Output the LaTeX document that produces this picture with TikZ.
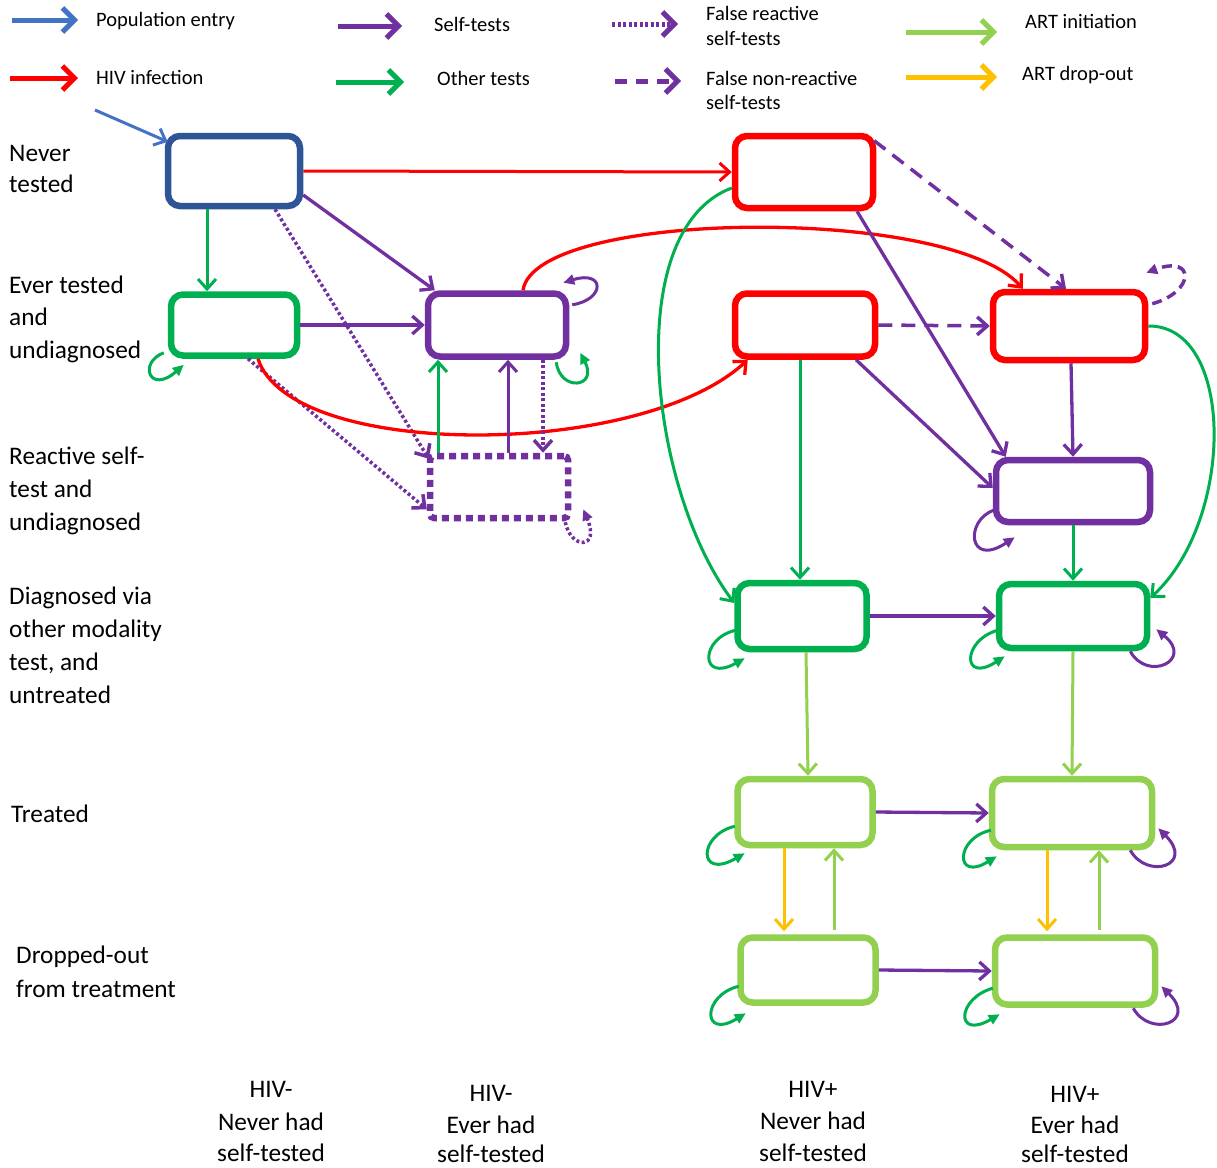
\documentclass[tikz,border=0pt]{standalone}
\usepackage{fontspec}
\setmainfont{Carlito}
\usetikzlibrary{arrows.meta}
\definecolor{nblue}{HTML}{2F5597}
\definecolor{pblue}{HTML}{4472C4}
\definecolor{hred}{HTML}{FF0000}
\definecolor{hpurple}{HTML}{7030A0}
\definecolor{hgreen}{HTML}{00B050}
\definecolor{lgreen}{HTML}{92D050}
\definecolor{hyellow}{HTML}{FFC000}
\newcommand{\txtline}[5]{\node[#1] (#2) at (#3) {#4#5};}
\begin{document}
\begin{tikzpicture}[x=1pt,y=-1pt,
  state/.style={draw,line width=6.5pt,rounded corners=12pt,inner sep=0pt,fill=white},
  conn/.style={line width=3.3pt,-{Straight Barb[length=10pt,width=18pt]}},
  thinconn/.style={line width=3pt,-{Straight Barb[length=10pt,width=18pt]}},
  loopa/.style={line width=3pt,-{Triangle[length=11pt,width=10pt]}},
  dotst/.style={dash pattern=on 3pt off 2.5pt,line width=3.5pt},
  dashst/.style={dash pattern=on 14pt off 9pt,line width=3.5pt},
  leg/.style={line width=5pt,-{Straight Barb[length=12pt,width=24pt]}},
  legtxt/.style={anchor=base west,inner sep=0pt,font=\fontsize{20.5}{24}\selectfont},
  rowtxt/.style={anchor=base west,inner sep=0pt,font=\fontsize{25.3}{30}\selectfont},
  coltxt/.style={anchor=base,inner sep=0pt,font=\fontsize{25.3}{30}\selectfont}]
\useasboundingbox (0,0) rectangle (1217,1167);

% ---------- legend ----------
\coordinate (l1a) at (12,20);   \coordinate (l1b) at (78,20);
\coordinate (l2a) at (10,78);   \coordinate (l2b) at (78,78);
\coordinate (l3a) at (338,26);  \coordinate (l3b) at (402,26);
\coordinate (l4a) at (336,82);  \coordinate (l4b) at (404,82);
\coordinate (l5a) at (612,24);  \coordinate (l5b) at (678,24);
\coordinate (l6a) at (615,81);  \coordinate (l6b) at (681,81);
\coordinate (l7a) at (906,32);  \coordinate (l7b) at (997,32);
\coordinate (l8a) at (906,77);  \coordinate (l8b) at (997,77);
\draw[leg,pblue] (l1a) -- (l1b);
\draw[leg,hred] (l2a) -- (l2b);
\draw[leg,hpurple] (l3a) -- (l3b);
\draw[leg,hgreen] (l4a) -- (l4b);
\draw[leg,hpurple,dash pattern=on 3pt off 2.5pt] (l5a) -- (l5b);
\draw[leg,hpurple,dash pattern=on 12pt off 9pt] (l6a) -- (l6b);
\draw[leg,lgreen] (l7a) -- (l7b);
\draw[leg,hyellow] (l8a) -- (l8b);
\txtline{legtxt}{t1}{96,27}{Population entry}{}
\txtline{legtxt}{t2}{96,84}{HIV infection}{}
\txtline{legtxt}{t3}{434,31}{Self-tests}{}
\txtline{legtxt}{t4}{437,85}{Other tests}{}
\txtline{legtxt}{t5a}{706,20}{False reactive}{}
\txtline{legtxt}{t5b}{706,45}{self-tests}{}
\txtline{legtxt}{t6a}{706,85}{False non-reactive}{}
\txtline{legtxt}{t6b}{706,109}{self-tests}{}
\txtline{legtxt}{t7}{1025,28}{ART initiation}{}
\txtline{legtxt}{t8}{1022,80}{ART drop-out}{}

% ---------- row labels ----------
\txtline{rowtxt}{r1a}{9,161}{Never}{}
\txtline{rowtxt}{r1b}{9,192}{tested}{}
\txtline{rowtxt}{r2a}{9,293}{Ever tested}{}
\txtline{rowtxt}{r2b}{9,325}{and}{}
\txtline{rowtxt}{r2c}{9,358}{undiagnosed}{}
\txtline{rowtxt}{r3a}{9,464}{Reactive self-}{}
\txtline{rowtxt}{r3b}{9,497}{test and}{}
\txtline{rowtxt}{r3c}{9,530}{undiagnosed}{}
\txtline{rowtxt}{r4a}{9,604}{Diagnosed via}{}
\txtline{rowtxt}{r4b}{9,637}{other modality}{}
\txtline{rowtxt}{r4c}{9,670}{test, and}{}
\txtline{rowtxt}{r4d}{9,703}{untreated}{}
\txtline{rowtxt}{r5a}{11,822}{Treated}{}
\txtline{rowtxt}{r6a}{16,963}{Dropped-out}{}
\txtline{rowtxt}{r6b}{16,997}{from treatment}{}

% ---------- column labels ----------
\txtline{coltxt}{c1a}{271,1097}{HIV-}{}
\txtline{coltxt}{c1b}{271,1130}{Never had}{}
\txtline{coltxt}{c1c}{271,1161}{self-tested}{}
\txtline{coltxt}{c2a}{491,1101}{HIV-}{}
\txtline{coltxt}{c2b}{491,1133}{Ever had}{}
\txtline{coltxt}{c2c}{491,1162}{self-tested}{}
\txtline{coltxt}{c3a}{813,1097}{HIV+}{}
\txtline{coltxt}{c3b}{813,1129}{Never had}{}
\txtline{coltxt}{c3c}{813,1161}{self-tested}{}
\txtline{coltxt}{c4a}{1075,1102}{HIV+}{}
\txtline{coltxt}{c4b}{1075,1133}{Ever had}{}
\txtline{coltxt}{c4c}{1075,1162}{self-tested}{}

% ---------- states ----------
\node[state,draw=nblue,minimum width=132pt,minimum height=70pt] (NT) at (234,171) {};
\node[state,draw=hgreen,minimum width=126pt,minimum height=61pt] (ET) at (234,325) {};
\node[state,draw=hpurple,minimum width=138pt,minimum height=63pt] (ST) at (497,325) {};
\node[state,draw=hpurple,dash pattern=on 7pt off 5pt,rounded corners=4pt,minimum width=138pt,minimum height=62pt] (RS) at (499,487) {};
\node[state,draw=hred,minimum width=138pt,minimum height=72pt] (R1) at (804,172) {};
\node[state,draw=hred,minimum width=140pt,minimum height=63pt] (R2) at (805,325) {};
\node[state,draw=hred,minimum width=152pt,minimum height=68pt] (R3) at (1069,326) {};
\node[state,draw=hpurple,minimum width=154pt,minimum height=62pt] (S4) at (1073,491) {};
\node[state,draw=hgreen,minimum width=129pt,minimum height=66pt] (D1) at (802,616) {};
\node[state,draw=hgreen,minimum width=148pt,minimum height=64pt] (D2) at (1073,616) {};
\node[state,draw=lgreen,minimum width=135pt,minimum height=66pt] (T1) at (805,812) {};
\node[state,draw=lgreen,minimum width=160pt,minimum height=68pt] (T2) at (1072,813) {};
\node[state,draw=lgreen,minimum width=135pt,minimum height=65pt] (O1) at (808,970) {};
\node[state,draw=lgreen,minimum width=160pt,minimum height=67pt] (O2) at (1075,971) {};

% ---------- connectors: left part ----------
\coordinate (pe0) at (95,110);
\draw[thinconn,pblue] (pe0) -- ([shift={(3,9)}]NT.north west);
\draw[thinconn,hred] (NT.east) -- (R1.west);
\draw[thinconn,hgreen] ([shift={(-27,0)}]NT.south) -- ([shift={(-27,0)}]ET.north);
\draw[conn,hpurple] ([shift={(0,24)}]NT.east) -- ([shift={(10,0)}]ST.north west);
\draw[conn,dotst,hpurple] ([shift={(41,0)}]NT.south) -- ([shift={(2,6)}]RS.north west);
\draw[conn,hpurple] (ET.east) -- (ST.west);
\draw[conn,dotst,hpurple] ([shift={(14,0)}]ET.south) -- ([shift={(0,-12)}]RS.south west);
\draw[conn,hred] ([shift={(24,0)}]ET.south) .. controls +(32,101) and +(-108,100) .. ([shift={(16,0)}]R2.south west);
\draw[conn,hred] ([shift={(26,0)}]ST.north) .. controls +(12,-81) and +(-73,-84) .. ([shift={(33,0)}]R3.north west);
\draw[thinconn,hgreen] ([shift={(-61,0)}]RS.north) -- ([shift={(-59,0)}]ST.south);
\draw[thinconn,hpurple] ([shift={(9,0)}]RS.north) -- ([shift={(11,0)}]ST.south);
\draw[conn,dotst,hpurple] ([shift={(46,0)}]ST.south) -- ([shift={(44,0)}]RS.north);

% ---------- connectors: right part ----------
\draw[conn,dashst,hpurple] ([shift={(-2,8)}]R1.north east) -- ([shift={(-3,0)}]R3.north);
\draw[conn,dashst,hpurple] (R2.east) -- (R3.west);
\draw[conn,hpurple] ([shift={(53,0)}]R1.south) -- ([shift={(13,0)}]S4.north west);
\draw[conn,hpurple] ([shift={(51,0)}]R2.south) -- ([shift={(0,-3)}]S4.west);
\draw[conn,hpurple] ([shift={(2,0)}]R3.south) -- (S4.north);
\draw[thinconn,hgreen] (S4.south) -- (D2.north);
\draw[thinconn,hgreen] ([shift={(0,16)}]R1.west) .. controls +(-112,42) and +(-85,-113) .. ([shift={(0,-13)}]D1.west);
\draw[thinconn,hgreen] ([shift={(-5,0)}]R2.south) -- ([shift={(-2,0)}]D1.north);
\draw[thinconn,hgreen] (R3.east) .. controls +(87,-1) and +(85,-78) .. ([shift={(0,-18)}]D2.east);
\draw[conn,hpurple] (D1.east) -- (D2.west);
\draw[thinconn,lgreen] ([shift={(4,0)}]D1.south) -- ([shift={(3,0)}]T1.north);
\draw[thinconn,lgreen] (D2.south) -- (T2.north);
\draw[conn,hpurple] (T1.east) -- (T2.west);
\draw[thinconn,hyellow] ([shift={(-21,0)}]T1.south) -- ([shift={(-24,-3)}]O1.north);
\draw[thinconn,lgreen] ([shift={(26,-4)}]O1.north) -- ([shift={(29,0)}]T1.south);
\draw[thinconn,hyellow] ([shift={(-25,0)}]T2.south) -- ([shift={(-28,-3)}]O2.north);
\draw[thinconn,lgreen] ([shift={(24,-4)}]O2.north) -- ([shift={(27,0)}]T2.south);
\draw[conn,hpurple] (O1.east) -- (O2.west);

% ---------- self loops ----------
\draw[loopa,hgreen] ([shift={(-4,-6)}]ET.south west) .. controls +(-26,10) and +(-34,30) .. ([shift={(16,6)}]ET.south west);
\draw[loopa,hpurple] ([shift={(3,14.5)}]ST.north east) .. controls +(33,-5) and +(42,-13) .. ([shift={(-6,-7.5)}]ST.north east);
\draw[loopa,hgreen] ([shift={(-13,2.5)}]ST.south east) .. controls +(4,30) and +(18,35) .. ([shift={(11,-7)}]ST.south east);
\draw[loopa,dotst,hpurple] ([shift={(-6,1)}]RS.south east) .. controls +(6,28) and +(17,40) .. ([shift={(12,-12)}]RS.south east);
\draw[loopa,hpurple] ([shift={(1,-15)}]S4.south west) .. controls +(-29,10) and +(-47,31) .. ([shift={(22,12)}]S4.south west);
\draw[loopa,dashst,dash pattern=on 10pt off 6pt,hpurple] ([shift={(4,15)}]R3.north east) .. controls +(43,-12) and +(49,-18) .. ([shift={(-2,-16)}]R3.north east);
\draw[loopa,hgreen] ([shift={(1.5,-22)}]D1.south west) .. controls +(-36,8) and +(-45,25) .. ([shift={(10.5,6)}]D1.south west);
\draw[loopa,hgreen] ([shift={(2,-21)}]D2.south west) .. controls +(-36,10) and +(-43,28) .. ([shift={(9,5)}]D2.south west);
\draw[loopa,hpurple] ([shift={(-20,0)}]D2.south east) .. controls +(17,31) and +(38,31) .. ([shift={(6,-22)}]D2.south east);
\draw[loopa,hgreen] ([shift={(0.5,-22)}]T1.south west) .. controls +(-37,9) and +(-47,27) .. ([shift={(10.5,5)}]T1.south west);
\draw[loopa,hgreen] ([shift={(2,-20)}]T2.south west) .. controls +(-36,8) and +(-42,26) .. ([shift={(8,6)}]T2.south west);
\draw[loopa,hpurple] ([shift={(-25,0)}]T2.south east) .. controls +(17,30) and +(37,37) .. ([shift={(3,-22)}]T2.south east);
\draw[loopa,hgreen] ([shift={(1.5,-19.5)}]O1.south west) .. controls +(-37,9) and +(-44,27) .. ([shift={(8.5,7.5)}]O1.south west);
\draw[loopa,hgreen] ([shift={(1,-19.5)}]O2.south west) .. controls +(-36,10) and +(-45,26) .. ([shift={(8,6.5)}]O2.south west);
\draw[loopa,hpurple] ([shift={(-25,0.5)}]O2.south east) .. controls +(17,30) and +(37,36) .. ([shift={(3,-21.5)}]O2.south east);
\end{tikzpicture}
\end{document}
